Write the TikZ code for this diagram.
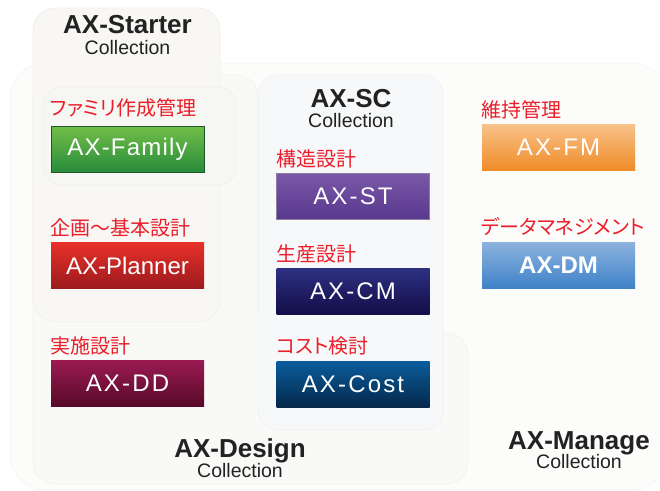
\documentclass[tikz,border=0pt]{standalone}
\usepackage{fontspec}
\setmainfont{Liberation Sans}
\newfontfamily\jpfont[RawFeature=+palt]{Noto Sans CJK JP}
\newfontfamily\trackfont[LetterSpace=9]{Liberation Sans}
\newfontfamily\trackfontsmall[LetterSpace=5]{Liberation Sans}
\definecolor{lblred}{HTML}{EA1F2B}
\definecolor{ttl}{HTML}{222222}
\begin{document}
\begin{tikzpicture}[x=1pt,y=-1pt,
  panel/.style={rounded corners=#1, line width=0.8pt},
  prod/.style={minimum width=153pt, minimum height=46pt, inner sep=0pt, text=white},
  plain/.style={font=\fontsize{24pt}{24pt}\selectfont},
  tracked/.style={font=\trackfont\fontsize{24pt}{24pt}\selectfont},
  lbl/.style={anchor=west, inner sep=0pt, text=lblred, font=\jpfont\fontsize{20pt}{20pt}\selectfont},
  title/.style={anchor=base, inner sep=0pt, text=ttl, font=\bfseries\fontsize{26pt}{26pt}\selectfont},
  coll/.style={anchor=base, inner sep=0pt, text=ttl, font=\fontsize{19.5pt}{19.5pt}\selectfont}]
\useasboundingbox (0,0) rectangle (660,490);
\fill[white] (0,0) rectangle (660,490);
% panels
\path[panel=36, fill={rgb,255:red,252;green,252;blue,251}, draw={rgb,255:red,246;green,246;blue,244}] (10,63) rectangle (668,490);
\path[panel=22, fill={rgb,255:red,249;green,249;blue,247}, draw={rgb,255:red,243;green,243;blue,241}]
  (33,75) -- (258,75) -- (258,333) -- (468,333) -- (468,484) -- (33,484) -- cycle;
\path[panel=22, fill={rgb,255:red,248;green,247;blue,244}, draw={rgb,255:red,241;green,240;blue,237}] (33,8) rectangle (220,322);
\path[panel=20, fill={rgb,255:red,246;green,246;blue,243}, draw={rgb,255:red,241;green,241;blue,238}] (43,87) rectangle (237,185);
\path[panel=20, fill={rgb,255:red,246;green,248;blue,249}, draw={rgb,255:red,240;green,242;blue,243}] (258,75) rectangle (443,430);
% titles
\node[title] (tStarter) at (127.5,33) {AX-Starter};
\node[coll] (cStarter) at (127.5,54) {Collection};
\node[title] (tSC) at (351,107) {AX-SC};
\node[coll] (cSC) at (351,127) {Collection};
\node[title] (tDesign) at (240,457) {AX-Design};
\node[coll] (cDesign) at (240,477) {Collection};
\node[title] (tManage) at (579,449) {AX-Manage};
\node[coll] (cManage) at (579,468) {Collection};
% labels
\node[lbl] (lFamily) at (50,108) {ファミリ作成管理};
\node[lbl] (lPlanner) at (50,228) {企画〜基本設計};
\node[lbl] (lDD) at (50,346) {実施設計};
\node[lbl] (lST) at (276,159) {構造設計};
\node[lbl] (lCM) at (276,254) {生産設計};
\node[lbl] (lCost) at (276,346) {コスト検討};
\node[lbl] (lFM) at (481,110) {維持管理};
\node[lbl] (lDM) at (481,227) {データマネジメント};
% product boxes
\node[prod, font=\trackfontsmall\fontsize{24pt}{24pt}\selectfont, top color={rgb,255:red,114;green,190;blue,71}, bottom color={rgb,255:red,40;green,140;blue,60}, draw={rgb,255:red,30;green,88;blue,40}, line width=0.8pt] (family) at (127.5,149) {AX-Family};
\node[prod, plain, top color={rgb,255:red,232;green,48;blue,40}, bottom color={rgb,255:red,156;green,26;blue,30}] (planner) at (127.5,265.5) {AX-Planner};
\node[prod, tracked, top color={rgb,255:red,154;green,26;blue,82}, bottom color={rgb,255:red,88;green,10;blue,40}] (dd) at (127.5,383) {AX-DD};
\node[prod, tracked, top color={rgb,255:red,122;green,88;blue,168}, bottom color={rgb,255:red,88;green,56;blue,142}, draw={rgb,255:red,140;green,128;blue,160}, line width=0.8pt] (st) at (353,196.5) {AX-ST};
\node[prod, tracked, top color={rgb,255:red,46;green,48;blue,130}, bottom color={rgb,255:red,18;green,14;blue,72}] (cm) at (353,291) {AX-CM};
\node[prod, tracked, top color={rgb,255:red,10;green,92;blue,156}, bottom color={rgb,255:red,5;green,40;blue,74}] (cost) at (353,384.5) {AX-Cost};
\node[prod, tracked, top color={rgb,255:red,248;green,194;blue,138}, bottom color={rgb,255:red,240;green,140;blue,40}] (fm) at (558.5,147) {AX-FM};
\node[prod, font=\bfseries\fontsize{24pt}{24pt}\selectfont, top color={rgb,255:red,140;green,178;blue,222}, bottom color={rgb,255:red,62;green,130;blue,200}] (dm) at (558.5,265.5) {AX-DM};
\end{tikzpicture}
\end{document}
